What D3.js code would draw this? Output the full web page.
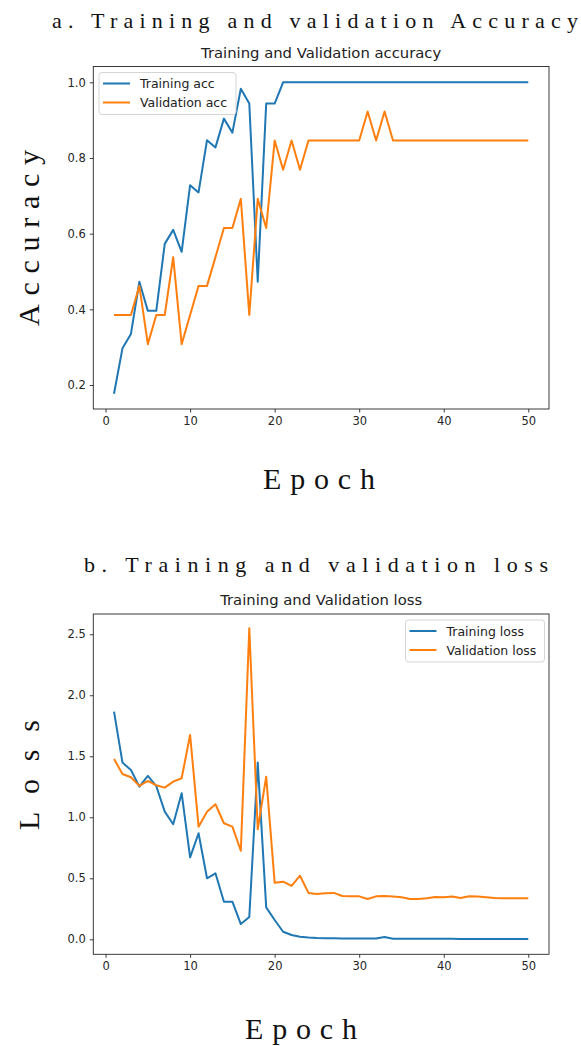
<!DOCTYPE html>
<html>
<head>
    <title>Training and validation curves</title>
    <script src="https://cdn.jsdelivr.net/npm/d3@7"></script>
</head>
<style>
body { margin: 0; background: #fff; }
svg { display: block; }
.tick text { font-family: "DejaVu Sans", sans-serif; font-size: 11.5px; fill: #262626; }
.tick line { stroke: #262626; stroke-width: 0.9; }
</style>
<body>
<script>

var epochs = [1, 2, 3, 4, 5, 6, 7, 8, 9, 10,
              11, 12, 13, 14, 15, 16, 17, 18, 19, 20,
              21, 22, 23, 24, 25, 26, 27, 28, 29, 30,
              31, 32, 33, 34, 35, 36, 37, 38, 39, 40,
              41, 42, 43, 44, 45, 46, 47, 48, 49, 50];

var trainAcc = [0.177, 0.297, 0.335, 0.473, 0.396, 0.396, 0.573, 0.610, 0.552, 0.728,
                0.709, 0.847, 0.828, 0.904, 0.867, 0.983, 0.944, 0.473, 0.944, 0.944,
                1.0, 1.0, 1.0, 1.0, 1.0, 1.0, 1.0, 1.0, 1.0, 1.0,
                1.0, 1.0, 1.0, 1.0, 1.0, 1.0, 1.0, 1.0, 1.0, 1.0,
                1.0, 1.0, 1.0, 1.0, 1.0, 1.0, 1.0, 1.0, 1.0, 1.0];

var valAcc = [0.385, 0.385, 0.385, 0.462, 0.308, 0.385, 0.385, 0.538, 0.308, 0.385,
              0.462, 0.462, 0.538, 0.615, 0.615, 0.692, 0.385, 0.692, 0.615, 0.846,
              0.769, 0.846, 0.769, 0.846, 0.846, 0.846, 0.846, 0.846, 0.846, 0.846,
              0.923, 0.846, 0.923, 0.846, 0.846, 0.846, 0.846, 0.846, 0.846, 0.846,
              0.846, 0.846, 0.846, 0.846, 0.846, 0.846, 0.846, 0.846, 0.846, 0.846];

var trainLoss = [1.866, 1.448, 1.388, 1.251, 1.339, 1.255, 1.046, 0.943, 1.197, 0.672,
                 0.869, 0.500, 0.541, 0.308, 0.308, 0.125, 0.183, 1.448, 0.262, 0.158,
                 0.062, 0.035, 0.021, 0.015, 0.011, 0.009, 0.008, 0.007, 0.007, 0.006,
                 0.006, 0.006, 0.018, 0.005, 0.005, 0.005, 0.004, 0.004, 0.004, 0.004,
                 0.004, 0.003, 0.003, 0.003, 0.003, 0.003, 0.003, 0.003, 0.003, 0.003];

var valLoss = [1.478, 1.355, 1.328, 1.257, 1.298, 1.262, 1.243, 1.292, 1.320, 1.675,
               0.923, 1.046, 1.107, 0.951, 0.923, 0.726, 2.549, 0.902, 1.333, 0.464,
               0.472, 0.437, 0.521, 0.380, 0.372, 0.377, 0.380, 0.355, 0.352, 0.352,
               0.330, 0.352, 0.355, 0.350, 0.344, 0.330, 0.330, 0.336, 0.347, 0.344,
               0.350, 0.339, 0.352, 0.350, 0.344, 0.339, 0.336, 0.336, 0.336, 0.336];

var xTicks = [0, 10, 20, 30, 40, 50];
var accTicks = [0.2, 0.4, 0.6, 0.8, 1.0];
var lossTicks = [0.0, 0.5, 1.0, 1.5, 2.0, 2.5];

var blue = "#1f77b4";
var orange = "#ff7f0e";

var w = 581;
var h = 1046;

var svg = d3.select("body").append("svg")
                .attr("width", w)
                .attr("height", h);

function drawPanel(p) {
    var x = d3.scaleLinear().domain([-1.45, 52.45]).range([p.left, p.right]);
    var y = d3.scaleLinear().domain(p.yDomain).range([p.bottom, p.top]);

    // big serif caption above the panel
    svg.append("text")
        .text(p.caption)
        .attr("x", p.captionX)
        .attr("y", p.captionY)
        .attr("textLength", p.captionLen)
        .attr("lengthAdjust", "spacing")
        .attr("font-family", "Liberation Serif, serif")
        .attr("font-size", "22px")
        .attr("fill", "#111");

    // matplotlib title
    svg.append("text")
        .text(p.title)
        .attr("x", (p.left + p.right) / 2)
        .attr("y", p.top - 9)
        .attr("text-anchor", "middle")
        .attr("font-family", "DejaVu Sans, sans-serif")
        .attr("font-size", "14.8px")
        .attr("fill", "#222");

    svg.append("g")
        .attr("transform", "translate(0," + p.bottom + ")")
        .call(d3.axisBottom(x).tickValues(xTicks).tickFormat(d3.format("d"))
                .tickSize(3.5).tickPadding(4))
        .call(function(g) { g.select(".domain").remove(); });

    svg.append("g")
        .attr("transform", "translate(" + p.left + ",0)")
        .call(d3.axisLeft(y).tickValues(p.yTicks).tickFormat(d3.format(".1f"))
                .tickSize(3.5).tickPadding(4))
        .call(function(g) { g.select(".domain").remove(); });

    var line = d3.line()
        .x(function(d, i) { return x(epochs[i]); })
        .y(function(d) { return y(d); });

    svg.append("path")
        .datum(p.train)
        .attr("d", line)
        .attr("fill", "none")
        .attr("stroke", blue)
        .attr("stroke-width", 2)
        .attr("stroke-linejoin", "round");

    svg.append("path")
        .datum(p.val)
        .attr("d", line)
        .attr("fill", "none")
        .attr("stroke", orange)
        .attr("stroke-width", 2)
        .attr("stroke-linejoin", "round");

    // spines
    svg.append("rect")
        .attr("x", p.left)
        .attr("y", p.top)
        .attr("width", p.right - p.left)
        .attr("height", p.bottom - p.top)
        .attr("fill", "none")
        .attr("stroke", "#262626")
        .attr("stroke-width", 0.9);

    // legend
    var lg = svg.append("g").attr("transform", "translate(" + p.legX + "," + p.legY + ")");
    lg.append("rect")
        .attr("width", p.legW)
        .attr("height", 42)
        .attr("rx", 3)
        .attr("fill", "white")
        .attr("fill-opacity", 0.8)
        .attr("stroke", "#d0d0d0")
        .attr("stroke-width", 0.9);
    [[p.labels[0], blue], [p.labels[1], orange]].forEach(function(item, i) {
        var yy = 11 + i * 19;
        lg.append("line")
            .attr("x1", 4).attr("x2", 31)
            .attr("y1", yy).attr("y2", yy)
            .attr("stroke", item[1])
            .attr("stroke-width", 2);
        lg.append("text")
            .text(item[0])
            .attr("x", 41)
            .attr("y", yy + 4.5)
            .attr("font-family", "DejaVu Sans, sans-serif")
            .attr("font-size", "12.5px")
            .attr("fill", "#222");
    });

    // y label (serif, spaced)
    svg.append("text")
        .text(p.yLabel)
        .attr("transform", "translate(" + 39 + "," + p.yLabelY + ") rotate(-90)")
        .attr("x", -p.yLabelLen / 2)
        .attr("textLength", p.yLabelLen)
        .attr("lengthAdjust", "spacing")
        .attr("font-family", "Liberation Serif, serif")
        .attr("font-size", "30px")
        .attr("fill", "#111");

    // x label
    svg.append("text")
        .text("Epoch")
        .attr("x", p.xLabelX)
        .attr("y", p.xLabelY)
        .attr("textLength", 112)
        .attr("lengthAdjust", "spacing")
        .attr("font-family", "Liberation Serif, serif")
        .attr("font-size", "30px")
        .attr("fill", "#111");
}

drawPanel({
    caption: "a. Training and validation Accuracy",
    captionX: 52, captionY: 28, captionLen: 526,
    title: "Training and Validation accuracy",
    left: 93.3, right: 549, top: 66.5, bottom: 409,
    yDomain: [0.1366, 1.0418], yTicks: accTicks,
    train: trainAcc, val: valAcc,
    labels: ["Training acc", "Validation acc"],
    legX: 99, legY: 72.5, legW: 137,
    yLabel: "Accuracy", yLabelY: 238, yLabelLen: 176,
    xLabelX: 263, xLabelY: 489
});

drawPanel({
    caption: "b. Training and validation loss",
    captionX: 84, captionY: 572, captionLen: 464,
    title: "Training and Validation loss",
    left: 93.3, right: 549, top: 614, bottom: 954.3,
    yDomain: [-0.123, 2.666], yTicks: lossTicks,
    train: trainLoss, val: valLoss,
    labels: ["Training loss", "Validation loss"],
    legX: 405.5, legY: 620, legW: 139,
    yLabel: "Loss", yLabelY: 775, yLabelLen: 110,
    xLabelX: 245, xLabelY: 1039
});

</script>
</body>
</html>
